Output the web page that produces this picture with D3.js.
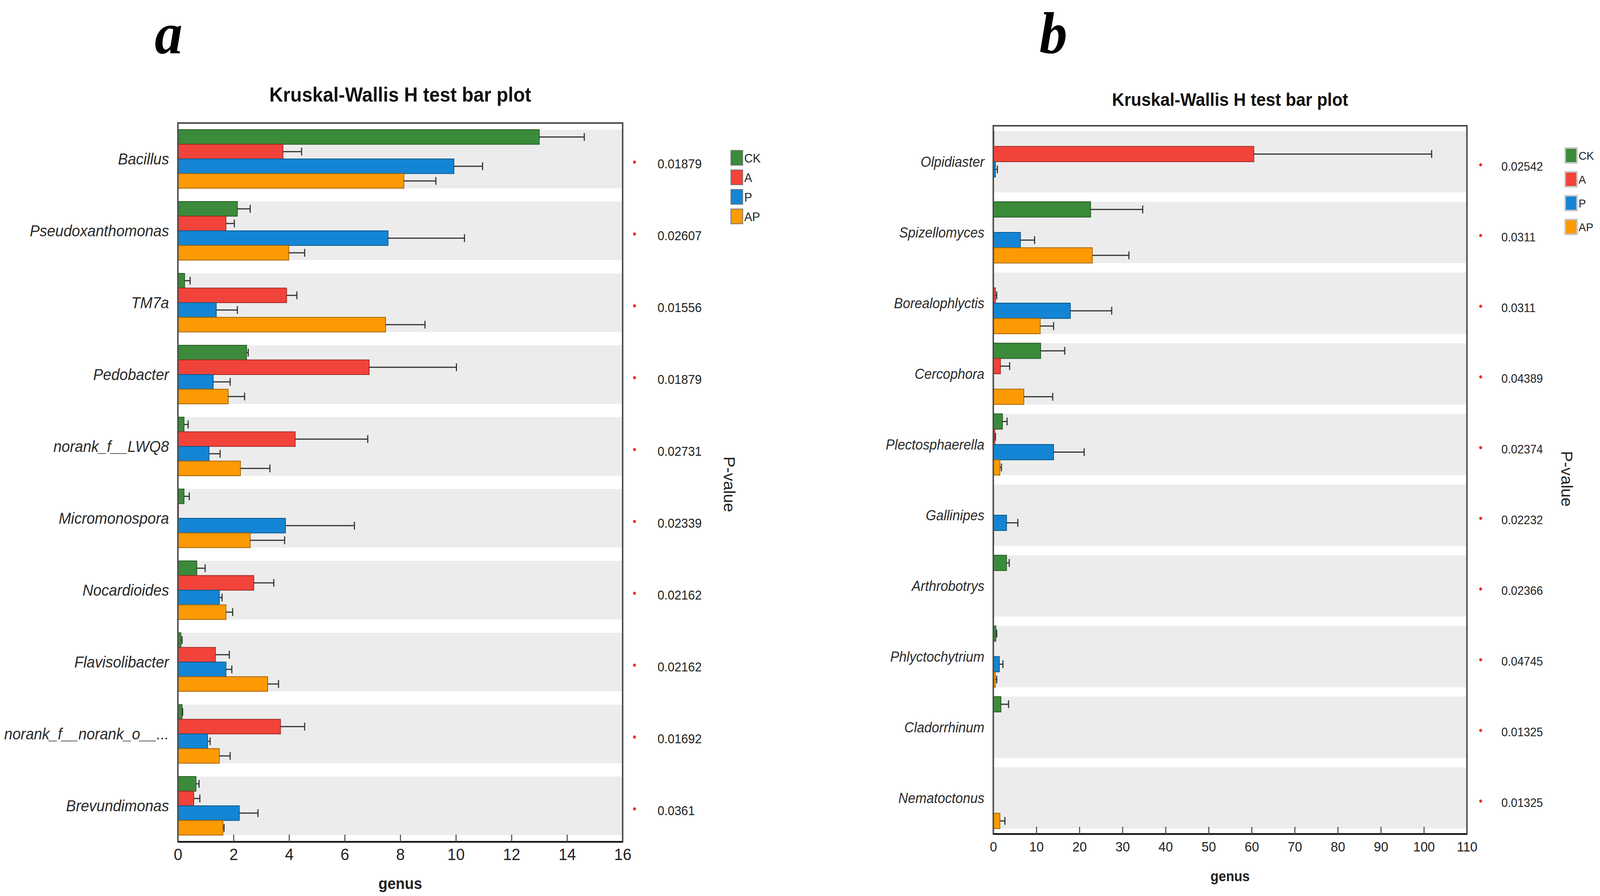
<!DOCTYPE html>
<html>
<head>
<meta charset="utf-8">
<script src="https://cdn.jsdelivr.net/npm/d3@7"></script>
<style>
  html, body { margin: 0; padding: 0; background: #fff; overflow: hidden; }
  svg { display: block; }
  text { font-family: "Liberation Sans", Arial, sans-serif; }
</style>
</head>
<body>
<div class="chart"></div>
<script>
var svgWidth = 4317;
var svgHeight = 2294;

var groups = ["CK", "A", "P", "AP"];
var colors = ["#3b8b3b", "#f2433a", "#1485d4", "#fb9a03"];

// ---- panel a (bacteria) ----
var genusA = ["Bacillus", "Pseudoxanthomonas", "TM7a", "Pedobacter", "norank_f__LWQ8",
  "Micromonospora", "Nocardioides", "Flavisolibacter", "norank_f__norank_o__...", "Brevundimonas"];
var pvalA = ["0.01879", "0.02607", "0.01556", "0.01879", "0.02731",
  "0.02339", "0.02162", "0.02162", "0.01692", "0.0361"];
var ckA   = [13.0, 2.14, 0.24, 2.47, 0.22, 0.22, 0.68, 0.11, 0.15, 0.65];
var ckHiA = [14.62, 2.6, 0.44, 2.53, 0.37, 0.41, 0.98, 0.15, 0.17, 0.76];
var aA    = [3.78, 1.73, 3.91, 6.88, 4.22, 0.02, 2.73, 1.35, 3.69, 0.57];
var aHiA  = [4.45, 2.03, 4.28, 10.02, 6.83, 0.02, 3.45, 1.85, 4.56, 0.79];
var pA    = [9.93, 7.56, 1.38, 1.27, 1.12, 3.87, 1.49, 1.73, 1.07, 2.21];
var pHiA  = [10.96, 10.31, 2.14, 1.88, 1.52, 6.35, 1.59, 1.94, 1.16, 2.88];
var apA   = [8.13, 3.99, 7.47, 1.81, 2.25, 2.6, 1.73, 3.23, 1.49, 1.62];
var apHiA = [9.28, 4.56, 8.89, 2.4, 3.31, 3.84, 1.97, 3.62, 1.88, 1.66];
var ticksA = [0, 2, 4, 6, 8, 10, 12, 14, 16];

// ---- panel b (fungi) ----
var genusB = ["Olpidiaster", "Spizellomyces", "Borealophlyctis", "Cercophora", "Plectosphaerella",
  "Gallinipes", "Arthrobotrys", "Phlyctochytrium", "Cladorrhinum", "Nematoctonus"];
var pvalB = ["0.02542", "0.0311", "0.0311", "0.04389", "0.02374",
  "0.02232", "0.02366", "0.04745", "0.01325", "0.01325"];
var ckB   = [0.15, 22.6, 0, 11.0, 2.13, 0, 3.08, 0.6, 1.78, 0];
var ckHiB = [0.15, 34.7, 0, 16.6, 3.2, 0, 3.7, 0.8, 3.55, 0];
var aB    = [60.5, 0, 0.5, 1.66, 0.35, 0, 0, 0, 0, 0];
var aHiB  = [101.8, 0, 0.8, 3.8, 0.5, 0, 0, 0, 0, 0];
var pB    = [0.5, 6.3, 17.9, 0, 14.0, 3.08, 0, 1.42, 0, 0];
var pHiB  = [0.95, 9.6, 27.5, 0, 21.1, 5.7, 0, 2.25, 0, 0];
var apB   = [0, 23.0, 10.9, 7.1, 1.54, 0.1, 0, 0.47, 0, 1.54];
var apHiB = [0, 31.5, 14.0, 13.8, 1.9, 0.1, 0, 0.8, 0, 2.7];
var ticksB = [0, 10, 20, 30, 40, 50, 60, 70, 80, 90, 100, 110];

// draw in 4317x2294 units and stretch onto whatever the window really is
var svg = d3.select(".chart")
  .append("svg")
  .attr("viewBox", `0 0 ${svgWidth} ${svgHeight}`)
  .attr("preserveAspectRatio", "none")
  .style("width", "100vw")
  .style("height", "100vh");

svg.append("rect").attr("width", svgWidth).attr("height", svgHeight).attr("fill", "#fff");

function drawPanel(p) {
  var g = svg.append("g");

  var x = d3.scaleLinear().domain(p.domain).range([p.left, p.right]);
  var y = d3.scaleBand().domain(p.genus).range([p.top, p.bottom])
    .paddingInner(p.padIn).paddingOuter(p.padOut);
  var yInner = d3.scaleBand().domain(groups).range([0, y.bandwidth()]);

  // panel letter
  g.append("text")
    .attr("x", p.letterX).attr("y", p.letterY)
    .attr("text-anchor", "middle")
    .style("font-family", "'Liberation Serif', 'Times New Roman', serif")
    .style("font-style", "italic").style("font-weight", "bold")
    .style("font-size", "150px")
    .text(p.letter);

  // title
  g.append("text")
    .attr("x", (p.left + p.right) / 2).attr("y", p.titleY)
    .attr("text-anchor", "middle")
    .style("font-weight", "bold").style("font-size", p.titleSize + "px")
    .attr("fill", "#111")
    .text("Kruskal-Wallis H test bar plot");

  // grey bands
  g.selectAll(".band").data(p.genus).enter().append("rect")
    .attr("x", p.left).attr("width", p.right - p.left)
    .attr("y", d => y(d)).attr("height", y.bandwidth())
    .attr("fill", "#ececec");

  // bars + error bars
  p.series.forEach(function(s, si) {
    var grp = groups[si];
    var rows = p.genus.map((d, i) => ({ genus: d, v: s.mean[i], hi: s.hi[i] }));
    g.selectAll(".bar" + si).data(rows.filter(r => r.v > 0)).enter().append("rect")
      .attr("x", x(0))
      .attr("y", d => y(d.genus) + yInner(grp))
      .attr("width", d => x(d.v) - x(0))
      .attr("height", yInner.bandwidth())
      .attr("fill", colors[si])
      .attr("stroke", d3.color(colors[si]).darker(1.2))
      .attr("stroke-width", 2);

    var errs = rows.filter(r => r.hi > r.v);
    var cy = d => y(d.genus) + yInner(grp) + yInner.bandwidth() / 2;
    g.selectAll(".err" + si).data(errs).enter().append("line")
      .attr("x1", d => x(d.v)).attr("x2", d => x(d.hi))
      .attr("y1", cy).attr("y2", cy)
      .attr("stroke", "#333").attr("stroke-width", 3);
    g.selectAll(".cap" + si).data(errs).enter().append("line")
      .attr("x1", d => x(d.hi)).attr("x2", d => x(d.hi))
      .attr("y1", d => cy(d) - 10).attr("y2", d => cy(d) + 10)
      .attr("stroke", "#333").attr("stroke-width", 3);
  });

  // frame
  g.append("rect")
    .attr("x", p.left).attr("y", p.top)
    .attr("width", p.right - p.left).attr("height", p.bottom - p.top)
    .attr("fill", "none").attr("stroke", "#4a4a4a").attr("stroke-width", 4);

  // x axis with inward ticks
  var axis = g.append("g")
    .attr("transform", `translate(0, ${p.bottom})`)
    .call(d3.axisBottom(x).tickValues(p.ticks).tickSize(-18).tickSizeOuter(0).tickPadding(p.tickPad));
  axis.select(".domain").attr("stroke", "#111").attr("stroke-width", 4);
  axis.selectAll(".tick line").attr("stroke", "#555").attr("stroke-width", 3);
  axis.selectAll(".tick text")
    .style("font-family", "'Liberation Sans', Arial, sans-serif")
    .style("font-size", p.tickSize + "px").attr("fill", "#222");

  g.append("text")
    .attr("x", (p.left + p.right) / 2).attr("y", p.genusY)
    .attr("text-anchor", "middle")
    .style("font-weight", "bold").style("font-size", p.genusSize + "px")
    .attr("fill", "#222")
    .text("genus");

  // category labels
  g.selectAll(".lab").data(p.genus).enter().append("text")
    .attr("x", p.left - 24)
    .attr("y", d => y(d) + y.bandwidth() / 2)
    .attr("dy", "0.36em")
    .attr("text-anchor", "end")
    .style("font-style", "italic").style("font-size", p.labSize + "px")
    .attr("fill", "#2a2a2a")
    .text(d => d);

  // p-values
  g.selectAll(".dot").data(p.genus).enter().append("circle")
    .attr("cx", p.dotX)
    .attr("cy", d => y(d) + y.bandwidth() / 2 + 8)
    .attr("r", 4).attr("fill", "#f03030");
  g.selectAll(".pv").data(p.pval).enter().append("text")
    .attr("x", p.pvX)
    .attr("y", (d, i) => y(p.genus[i]) + y.bandwidth() / 2 + 12)
    .attr("dy", "0.36em")
    .style("font-size", p.pvSize + "px").attr("fill", "#222")
    .text(d => d);

  g.append("text")
    .attr("transform", `translate(${p.pLabX}, ${p.pLabY}) rotate(90)`)
    .attr("text-anchor", "middle")
    .attr("dy", "0.36em")
    .style("font-size", "42px").attr("fill", "#222")
    .text("P-value");

  // legend
  var leg = g.selectAll(".leg").data(groups).enter().append("g")
    .attr("transform", (d, i) => `translate(${p.legX}, ${p.legY + i * p.legStep})`);
  leg.append("rect")
    .attr("width", 32).attr("height", 38)
    .attr("fill", (d, i) => colors[i])
    .attr("stroke", p.legStroke).attr("stroke-width", p.legStrokeW);
  leg.append("text")
    .attr("x", 36).attr("y", 19).attr("dy", "0.36em")
    .style("font-size", p.legSize + "px").attr("fill", "#222")
    .text(d => d);
}

drawPanel({
  letter: "a", letterX: 455, letterY: 136,
  genus: genusA, pval: pvalA, domain: [0, 16], ticks: ticksA,
  series: [{ mean: ckA, hi: ckHiA }, { mean: aA, hi: aHiA }, { mean: pA, hi: pHiA }, { mean: apA, hi: apHiA }],
  left: 480, right: 1680, top: 315, bottom: 2155, padIn: 0.185, padOut: 0.092,
  titleY: 260, titleSize: 51, tickSize: 42, tickPad: 17, genusY: 2276, genusSize: 40,
  labSize: 40, dotX: 1712, pvX: 1774, pvSize: 33, pLabX: 1968, pLabY: 1240,
  legX: 1972, legY: 385, legStep: 50, legStroke: "#777", legStrokeW: 2, legSize: 32
});

drawPanel({
  letter: "b", letterX: 2842, letterY: 136,
  genus: genusB, pval: pvalB, domain: [0, 110], ticks: ticksB,
  series: [{ mean: ckB, hi: ckHiB }, { mean: aB, hi: aHiB }, { mean: pB, hi: pHiB }, { mean: apB, hi: apHiB }],
  left: 2680, right: 3958, top: 322, bottom: 2135, padIn: 0.133, padOut: 0.075,
  titleY: 271, titleSize: 46, tickSize: 35, tickPad: 20, genusY: 2256, genusSize: 36,
  labSize: 36, dotX: 3995, pvX: 4051, pvSize: 31, pLabX: 4228, pLabY: 1226,
  legX: 4223, legY: 379, legStep: 61, legStroke: "#c8c8c8", legStrokeW: 4, legSize: 30
});
</script>
</body>
</html>
